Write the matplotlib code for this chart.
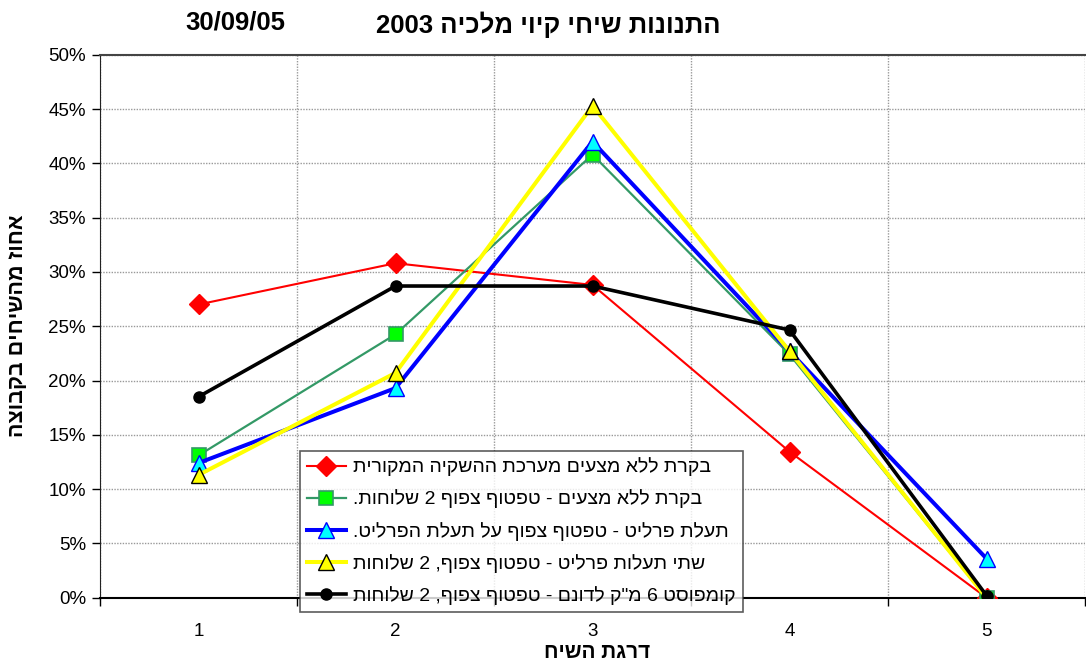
import re
import matplotlib
matplotlib.use('Agg')
import matplotlib.pyplot as plt
from matplotlib.ticker import MultipleLocator, FixedLocator, PercentFormatter

plt.rcParams['font.family'] = ['Liberation Sans', 'DejaVu Sans']


def heb(s):
    # matplotlib has no bidi: flip to visual order, keep digit runs LTR
    return re.sub(r'[0-9/]+', lambda m: m.group(0)[::-1], s[::-1])


# ── data ──────────────────────────────────────────────────────────────────
categories = [1, 2, 3, 4, 5]
red_vals    = [27.0, 30.8, 28.8, 13.45, 0.0]
green_vals  = [13.1, 24.25, 40.8, 22.4, 0.0]
blue_vals   = [12.4, 19.3, 42.0, 22.7, 3.6]
yellow_vals = [11.3, 20.7, 45.3, 22.7, 0.0]
black_vals  = [18.5, 28.7, 28.7, 24.65, 0.2]

labels = [
    'בקרת ללא מצעים מערכת ההשקיה המקורית',
    'בקרת ללא מצעים - טפטוף צפוף 2 שלוחות.',
    'תעלת פרליט - טפטוף צפוף על תעלת הפרליט.',
    'שתי תעלות פרליט - טפטוף צפוף, 2 שלוחות',
    'קומפוסט 6 מ"ק לדונם - טפטוף צפוף, 2 שלוחות',
]
title = 'התנונות שיחי קיוי מלכיה 2003'
date_txt = '30/09/05'
xlabel = 'דרגת השיח'
ylabel = 'אחוז מהשיחים בקבוצה'

# ── figure ────────────────────────────────────────────────────────────────
W, H = 1086, 663
fig = plt.figure(figsize=(W / 100, H / 100), dpi=100)
ax = fig.add_axes([100 / W, 1 - 597.7 / H, 985 / W, (597.7 - 54.7) / H])

ax.set_xlim(0.5, 5.5)
ax.set_ylim(0, 50)

ax.plot(categories, red_vals, color='#FF0000', lw=1.5, marker='D', ms=10,
        mfc='#FF0000', mec='#FF0000', label=heb(labels[0]), zorder=3)
ax.plot(categories, green_vals, color='#339966', lw=1.6, marker='s', ms=10,
        mfc='#00FF00', mec='#339966', mew=1.2, label=heb(labels[1]), zorder=3)
ax.plot(categories, blue_vals, color='#0000FF', lw=2.9, marker='^', ms=12,
        mfc='#00FFFF', mec='#0000FF', mew=1.0, label=heb(labels[2]), zorder=3)
ax.plot(categories, yellow_vals, color='#FFFF00', lw=2.9, marker='^', ms=12,
        mfc='#FFFF00', mec='black', mew=1.0, label=heb(labels[3]), zorder=3)
ax.plot(categories, black_vals, color='black', lw=2.6, marker='o', ms=8,
        mfc='black', mec='black', label=heb(labels[4]), zorder=4)

# axes styling (Excel-like)
ax.yaxis.set_major_locator(MultipleLocator(5))
ax.yaxis.set_major_formatter(PercentFormatter(decimals=0))
ax.xaxis.set_major_locator(FixedLocator([0.5, 1.5, 2.5, 3.5, 4.5, 5.5]))
ax.xaxis.set_major_formatter(plt.NullFormatter())
ax.xaxis.set_minor_locator(FixedLocator(categories))
ax.xaxis.set_minor_formatter(plt.FixedFormatter([str(c) for c in categories]))
ax.tick_params(axis='x', which='major', direction='out', length=6, width=1)
ax.tick_params(axis='x', which='minor', length=0, pad=18, labelsize=13.5)
ax.tick_params(axis='y', direction='out', length=6, width=1, labelsize=13.5, pad=4)

ax.grid(axis='y', which='major', color='#999999', ls=(0, (1, 1)), lw=1.0)
ax.grid(axis='x', which='major', color='#999999', ls=(0, (1, 1)), lw=1.0)
ax.set_axisbelow(True)

ax.spines['right'].set_visible(False)
ax.spines['top'].set_color('#444444')
ax.spines['top'].set_linewidth(1.5)
ax.spines['left'].set_color('#222222')
ax.spines['bottom'].set_color('black')
ax.spines['bottom'].set_linewidth(1.5)

leg = ax.legend(loc='lower left', bbox_to_anchor=(300 / W, 51.3 / H),
                bbox_transform=fig.transFigure, borderaxespad=0,
                fontsize=14, frameon=True, fancybox=False, shadow=False,
                handlelength=2.0, handletextpad=0.4, labelspacing=0.68,
                borderpad=0.35)
leg.get_frame().set_edgecolor('#333333')
leg.get_frame().set_linewidth(1.2)
leg.set_zorder(10)

# titles
fig.text(548 / W, 1 - 25 / H, heb(title), ha='center', va='center',
         fontsize=18.5, fontweight='bold')
fig.text(235 / W, 1 - 22 / H, date_txt, ha='center', va='center',
         fontsize=18.5, fontweight='bold')
fig.text(597 / W, 1 - 652 / H, heb(xlabel), ha='center', va='center',
         fontsize=15, fontweight='bold')
fig.text(18 / W, 1 - 326 / H, heb(ylabel), ha='center', va='center',
         fontsize=15.5, fontweight='bold', rotation=90)

fig.savefig('out.png', dpi=100, facecolor='white')
